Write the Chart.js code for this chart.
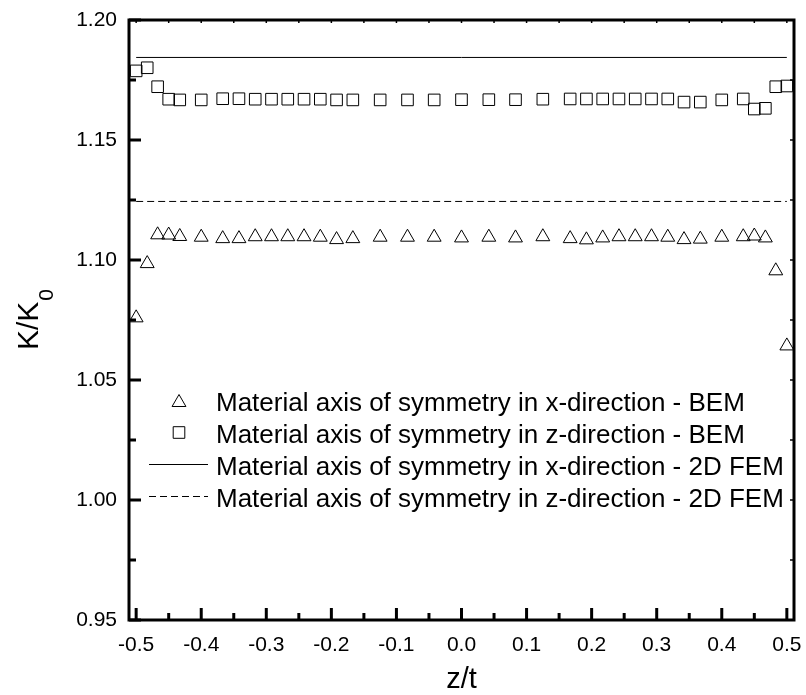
<!DOCTYPE html>
<html>
<head>
<meta charset="utf-8">
<title>K/K0 through the thickness</title>
<script src="https://cdn.jsdelivr.net/npm/chart.js@4.4.0/dist/chart.umd.min.js"></script>
<style>
  body { margin: 0; background: #fff; }
  #wrap { width: 806px; height: 695px; }
</style>
</head>
<body>
<div id="wrap"><canvas id="kChart" width="806" height="695"></canvas></div>
<script>
// z/t positions of the BEM sample points
const zPos = [-0.5, -0.483, -0.467, -0.45, -0.433, -0.4, -0.367, -0.342, -0.317, -0.292,
  -0.267, -0.242, -0.217, -0.192, -0.167, -0.125, -0.083, -0.042, 0, 0.042,
  0.083, 0.125, 0.167, 0.192, 0.217, 0.242, 0.267, 0.292, 0.317, 0.342,
  0.367, 0.4, 0.433, 0.45, 0.467, 0.483, 0.5];

// material axis of symmetry in x-direction, BEM (triangles)
const kxBem = [1.0759, 1.0985, 1.1105, 1.1104, 1.1098, 1.1095, 1.1089, 1.1089, 1.1097, 1.1097,
  1.1097, 1.1097, 1.1095, 1.1085, 1.1089, 1.1095, 1.1095, 1.1095, 1.1092, 1.1095,
  1.1092, 1.1097, 1.1089, 1.1084, 1.1092, 1.1097, 1.1097, 1.1097, 1.1095, 1.1085,
  1.1087, 1.1095, 1.1097, 1.1100, 1.1092, 1.0955, 1.0642];

// material axis of symmetry in z-direction, BEM (squares)
const kzBem = [1.1788, 1.1801, 1.1722, 1.1670, 1.1667, 1.1667, 1.1672, 1.1672, 1.1670, 1.1670,
  1.1670, 1.1670, 1.1670, 1.1667, 1.1667, 1.1667, 1.1667, 1.1667, 1.1668, 1.1668,
  1.1668, 1.1670, 1.1671, 1.1671, 1.1671, 1.1671, 1.1671, 1.1671, 1.1671, 1.1658,
  1.1658, 1.1667, 1.1671, 1.1629, 1.1632, 1.1722, 1.1725];

// 2D FEM reference values
const femZ = [-0.5, 0.5];
const kxFem = [1.1844, 1.1844];
const kzFem = [1.1244, 1.1244];

const xTicks = [-0.5, -0.4, -0.3, -0.2, -0.1, 0.0, 0.1, 0.2, 0.3, 0.4, 0.5];
const yTicks = [0.95, 1.00, 1.05, 1.10, 1.15, 1.20];

const seriesLabels = [
  "Material axis of symmetry in x-direction - BEM",
  "Material axis of symmetry in z-direction - BEM",
  "Material axis of symmetry in x-direction - 2D FEM",
  "Material axis of symmetry in z-direction - 2D FEM"
];

const FONT = "'Liberation Sans', Arial, sans-serif";

const toPoints = (xs, ys) => xs.map((x, i) => ({ x: x, y: ys[i] }));

// midpoints between major ticks, for the minor tick marks
const midpoints = (arr) => arr.slice(1).map((v, i) => (v + arr[i]) / 2);

// box frame with inward ticks like the original plot
const frameTicks = {
  id: "frameTicks",
  afterDatasetsDraw(chart) {
    const { ctx, chartArea: a, scales: { x, y } } = chart;
    const seg = (x1, y1, x2, y2) => { ctx.beginPath(); ctx.moveTo(x1, y1); ctx.lineTo(x2, y2); ctx.stroke(); };
    ctx.save();
    ctx.strokeStyle = "#000";
    ctx.lineWidth = 3;
    ctx.strokeRect(a.left, a.top, a.right - a.left, a.bottom - a.top);

    xTicks.forEach(v => { const p = x.getPixelForValue(v); seg(p, a.bottom, p, a.bottom - 12); });
    midpoints(xTicks).forEach(v => { const p = x.getPixelForValue(v); seg(p, a.bottom, p, a.bottom - 7); });
    yTicks.forEach(v => { const p = y.getPixelForValue(v); seg(a.left, p, a.left + 12, p); });
    midpoints(yTicks).forEach(v => { const p = y.getPixelForValue(v); seg(a.left, p, a.left + 7, p); });

    // small mirrored ticks on top and right
    ctx.lineWidth = 1.5;
    xTicks.concat(midpoints(xTicks)).forEach(v => { const p = x.getPixelForValue(v); seg(p, a.top, p, a.top + 3); });
    yTicks.concat(midpoints(yTicks)).forEach(v => { const p = y.getPixelForValue(v); seg(a.right, p, a.right - 4, p); });
    ctx.restore();
  }
};

// legend inside the plot, plus the y title with its subscript
const legendAndTitle = {
  id: "legendAndTitle",
  afterDraw(chart) {
    const ctx = chart.ctx;
    ctx.save();
    ctx.fillStyle = "#000";
    ctx.strokeStyle = "#000";
    ctx.font = "26px " + FONT;
    ctx.textBaseline = "alphabetic";

    chart.data.datasets.forEach((ds, i) => {
      const base = 411 + i * 32;
      const cy = base - 10.5;
      ctx.lineWidth = 1;
      if (ds.showLine) {
        ctx.setLineDash(ds.borderDash || []);
        ctx.beginPath();
        ctx.moveTo(149, cy);
        ctx.lineTo(208, cy);
        ctx.stroke();
        ctx.setLineDash([]);
      } else {
        ctx.fillStyle = "rgba(0,0,0,0)";
        Chart.helpers.drawPoint(ctx, { pointStyle: ds.pointStyle, radius: ds.pointRadius, borderWidth: 1, rotation: 0 }, 179, ds.pointStyle === "triangle" ? cy + 2 : cy);
        ctx.fillStyle = "#000";
      }
      ctx.fillText(ds.label, 216, base);
    });

    // K/K0 rotated title
    ctx.translate(38, 350);
    ctx.rotate(-Math.PI / 2);
    ctx.font = "30px " + FONT;
    ctx.fillText("K/K", 0, 0);
    const w = ctx.measureText("K/K").width;
    ctx.font = "21px " + FONT;
    ctx.fillText("0", w + 1, 15);
    ctx.restore();
  }
};

new Chart(document.getElementById("kChart"), {
  type: "scatter",
  data: {
    datasets: [
      {
        label: seriesLabels[0],
        data: toPoints(zPos, kxBem),
        pointStyle: "triangle",
        pointRadius: 8,
        pointBorderWidth: 1,
        pointBorderColor: "#000",
        pointBackgroundColor: "rgba(0,0,0,0)",
        showLine: false,
        clip: false
      },
      {
        label: seriesLabels[1],
        data: toPoints(zPos, kzBem),
        pointStyle: "rect",
        pointRadius: 8.2,
        pointBorderWidth: 1,
        pointBorderColor: "#000",
        pointBackgroundColor: "rgba(0,0,0,0)",
        showLine: false,
        clip: false
      },
      {
        label: seriesLabels[2],
        data: toPoints(femZ, kxFem),
        showLine: true,
        borderColor: "#000",
        borderWidth: 1,
        pointRadius: 0
      },
      {
        label: seriesLabels[3],
        data: toPoints(femZ, kzFem),
        showLine: true,
        borderColor: "#000",
        borderWidth: 1,
        borderDash: [7, 4],
        pointRadius: 0
      }
    ]
  },
  options: {
    responsive: false,
    animation: false,
    layout: { padding: { left: 0, right: 12, top: 20, bottom: 0 } },
    plugins: {
      legend: { display: false },
      tooltip: { enabled: false }
    },
    scales: {
      x: {
        type: "linear",
        min: -0.511,
        max: 0.511,
        afterBuildTicks: (s) => { s.ticks = xTicks.map(v => ({ value: v })); },
        // fixed box height; edge labels may hang into the side margins
        afterFit: (s) => { s.height = 75; s.paddingLeft = 0; s.paddingRight = 0; },
        grid: { display: false, drawTicks: false },
        border: { display: false },
        ticks: {
          color: "#000",
          padding: 13,
          font: { family: FONT, size: 21 },
          callback: (v) => Number(v).toFixed(1)
        },
        title: {
          display: true,
          text: "z/t",
          color: "#000",
          font: { family: FONT, size: 29 },
          padding: { top: 0, bottom: -2 }
        }
      },
      y: {
        type: "linear",
        min: 0.95,
        max: 1.20,
        afterBuildTicks: (s) => { s.ticks = yTicks.map(v => ({ value: v })); },
        afterFit: (s) => { s.width = 129; s.paddingTop = 0; s.paddingBottom = 0; },
        grid: { display: false, drawTicks: false },
        border: { display: false },
        ticks: {
          color: "#000",
          padding: 12,
          font: { family: FONT, size: 21 },
          callback: (v) => Number(v).toFixed(2)
        }
      }
    }
  },
  plugins: [frameTicks, legendAndTitle]
});
</script>
</body>
</html>
